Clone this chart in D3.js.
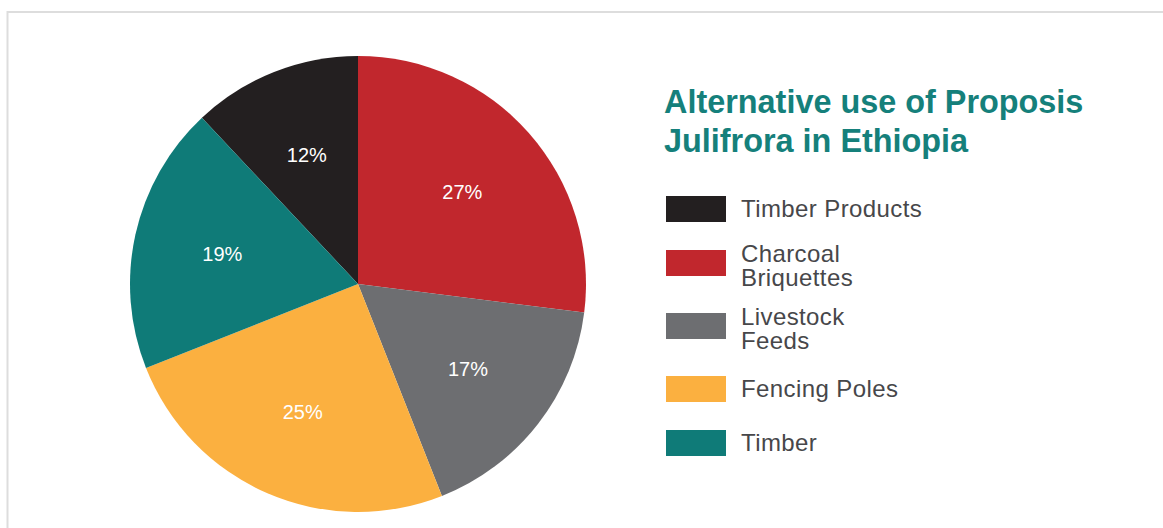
<!DOCTYPE html>
<html>
<head>
<meta charset="utf-8">
<script src="https://cdn.jsdelivr.net/npm/d3@7/dist/d3.min.js"></script>
<style>
  html, body { margin: 0; padding: 0; background: #ffffff; }
  svg { display: block; }
</style>
</head>
<body>
<svg id="chart" width="1163" height="528"></svg>
<script>
// Uses of Prosopis juliflora, share of each use (%); "\n" marks a legend line break
const categories = ["Timber Products", "Charcoal\nBriquettes", "Livestock\nFeeds", "Fencing Poles", "Timber"];
const values = [12, 27, 17, 25, 19];
const colors = ["#231f20", "#c1272d", "#6d6e71", "#fbb040", "#0f7b78"];
const titleLines = ["Alternative use of Proposis", "Julifrora in Ethiopia"];

const data = categories.map((c, i) => ({ category: c, value: values[i], color: colors[i] }));

const svg = d3.select("#chart");
const font = "'Liberation Sans', Arial, Helvetica, sans-serif";

// Light frame (open on the right and bottom)
svg.append("path")
  .attr("d", "M7.5,540 L7.5,12 L1180,12")
  .attr("fill", "none")
  .attr("stroke", "#dddddd")
  .attr("stroke-width", 2);

// ---- Pie ----
const cx = 358, cy = 284, R = 228;
const total = d3.sum(values);
// first category sits just before 12 o'clock so the second one starts at the top
const start = -values[0] / total * 2 * Math.PI;

const pie = d3.pie()
  .sort(null)
  .value(d => d.value)
  .startAngle(start)
  .endAngle(start + 2 * Math.PI);

const arcs = pie(data);
const arc = d3.arc().innerRadius(0).outerRadius(R);
const labelArc = d3.arc().innerRadius(R * 0.61).outerRadius(R * 0.61);

const g = svg.append("g").attr("transform", `translate(${cx},${cy})`);

g.selectAll("path.slice")
  .data(arcs)
  .join("path")
  .attr("class", "slice")
  .attr("d", arc)
  .attr("fill", d => d.data.color);

g.selectAll("text.pct")
  .data(arcs)
  .join("text")
  .attr("class", "pct")
  .attr("transform", d => `translate(${labelArc.centroid(d)})`)
  .attr("text-anchor", "middle")
  .attr("dy", "0.36em")
  .attr("fill", "#ffffff")
  .attr("font-family", font)
  .attr("font-size", 20)
  .text(d => d.data.value + "%");

// ---- Title ----
const title = svg.append("text")
  .attr("x", 664)
  .attr("y", 113)
  .attr("fill", "#15807b")
  .attr("font-family", font)
  .attr("font-weight", "bold")
  .attr("font-size", 32.4);
title.selectAll("tspan")
  .data(titleLines)
  .join("tspan")
  .attr("x", 664)
  .attr("dy", (d, i) => i === 0 ? 0 : 38.5)
  .text(d => d);

// ---- Legend ----
const legendX = 666, swW = 60, swH = 26, textX = 741;
const lineH = 24.5;
const legend = svg.append("g");
let y = 196;

data.forEach(d => {
  const lines = d.category.split("\n");
  const item = legend.append("g");

  item.append("rect")
    .attr("x", legendX)
    .attr("y", y)
    .attr("width", swW)
    .attr("height", swH)
    .attr("fill", d.color);

  const mid = y + swH / 2;
  const firstBase = mid + 7.5 - (lines.length - 1) * 8.8;
  item.append("text")
    .attr("fill", "#47474a")
    .attr("font-family", font)
    .attr("font-size", 24)
    .attr("letter-spacing", 0.4)
    .selectAll("tspan")
    .data(lines)
    .join("tspan")
    .attr("x", textX)
    .attr("y", (l, i) => firstBase + i * lineH)
    .text(l => l);

  y += 54 + (lines.length - 1) * 9;
});
</script>
</body>
</html>
